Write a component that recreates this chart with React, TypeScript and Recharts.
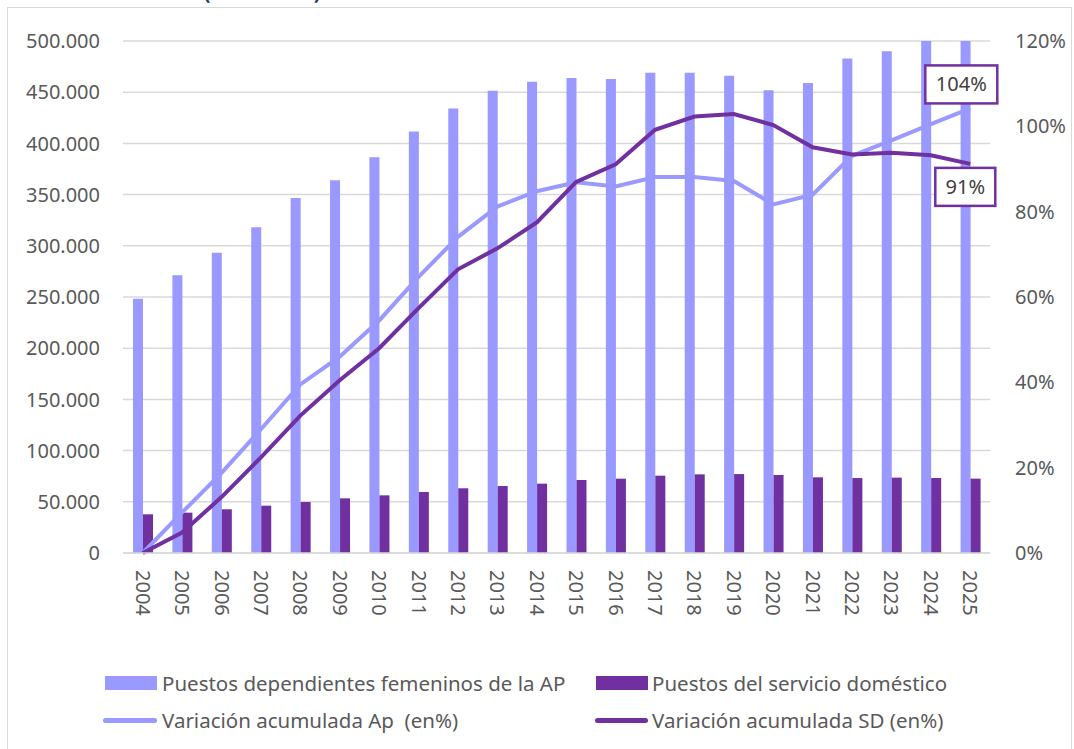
import { ComposedChart, Bar, Line, XAxis, YAxis, CartesianGrid, LabelList } from 'recharts';

const years = ['2004', '2005', '2006', '2007', '2008', '2009', '2010', '2011', '2012', '2013', '2014', '2015', '2016', '2017', '2018', '2019', '2020', '2021', '2022', '2023', '2024', '2025'];
const puestosAP = [248300, 271200, 293300, 318000, 346700, 364000, 386400, 411500, 434200, 451500, 460300, 463900, 463000, 469000, 469000, 466000, 452000, 459000, 483000, 490000, 504000, 512000];
const puestosSD = [37800, 39400, 42700, 46200, 49800, 53400, 56300, 59600, 63200, 65400, 67700, 71300, 72600, 75500, 76800, 77100, 76200, 73900, 73200, 73600, 73200, 72600];
const variacionAP = [0, 9.5, 18.8, 29, 39.5, 46, 54.5, 64.7, 74.1, 81.2, 84.8, 86.9, 85.9, 88.1, 88.1, 87.2, 81.7, 84, 93.1, 96.7, 100.5, 104.2];
const variacionSD = [0, 4.8, 13.1, 22.4, 32.2, 40.5, 48, 57.4, 66.5, 71.4, 77.5, 87, 91.1, 99.2, 102.3, 102.9, 100.3, 95.1, 93.4, 93.8, 93.2, 91.2];
const leftTicks = [0, 50000, 100000, 150000, 200000, 250000, 300000, 350000, 400000, 450000, 500000];
const rightTicks = [0, 20, 40, 60, 80, 100, 120];

const data = years.map((year, i) => ({
  year,
  ap: puestosAP[i],
  sd: puestosSD[i],
  varAP: variacionAP[i],
  varSD: variacionSD[i],
}));

const FONT = '"Noto Sans", sans-serif';
const GREY = '#595959';
const LIGHT = '#9999FF';
const DARK = '#7030A0';
const lastIndex = years.length - 1;

function formatThousands(v: number): string {
  return String(v).replace(/\B(?=(\d{3})+(?!\d))/g, '.');
}

function YearTick({ x, y, payload }: any) {
  return (
    <g transform={`translate(${x},${y})`}>
      <text transform="rotate(90)" x={17} y={0} dy="0.35em" textAnchor="start" fill={GREY} fontSize={20} fontFamily={FONT}>
        {payload.value}
      </text>
    </g>
  );
}

function endLabel(placement: 'above' | 'below') {
  return (props: any) => {
    const { x, y, value, index } = props;
    if (index !== lastIndex) return null;
    const text = `${Math.round(value)}%`;
    const w = text.length * 12 + 24;
    const h = 38;
    const cx = placement === 'above' ? x - 9 : x - 5;
    const cy = placement === 'above' ? y - 24 : y + 23;
    return (
      <g>
        <rect x={cx - w / 2} y={cy - h / 2} width={w} height={h} fill="#fff" stroke={DARK} strokeWidth={2.5} />
        <text x={cx} y={cy} dy="0.35em" textAnchor="middle" fill="#404040" fontSize={20} fontFamily={FONT}>
          {text}
        </text>
      </g>
    );
  };
}

const legendText: React.CSSProperties = {
  position: 'absolute',
  fontFamily: FONT,
  fontSize: 20.5,
  color: GREY,
  whiteSpace: 'pre',
  lineHeight: '24px',
};

function LegendBlock() {
  return (
    <>
      <div style={{ position: 'absolute', left: 105, top: 676, width: 52, height: 14, background: LIGHT }} />
      <div style={{ ...legendText, left: 162, top: 671 }}>Puestos dependientes femeninos de la AP</div>
      <div style={{ position: 'absolute', left: 596, top: 676, width: 52, height: 14, background: DARK }} />
      <div style={{ ...legendText, left: 652, top: 671 }}>Puestos del servicio doméstico</div>
      <div style={{ position: 'absolute', left: 103, top: 718, width: 54, height: 5, borderRadius: 3, background: LIGHT }} />
      <div style={{ ...legendText, left: 162, top: 708 }}>Variación acumulada Ap  (en%)</div>
      <div style={{ position: 'absolute', left: 595, top: 718, width: 53, height: 5, borderRadius: 3, background: DARK }} />
      <div style={{ ...legendText, left: 652, top: 708 }}>Variación acumulada SD (en%)</div>
    </>
  );
}

export default function App() {
  return (
    <div style={{ position: 'absolute', left: 0, top: 0, width: 1074, height: 749, overflow: 'hidden', background: '#fff' }}>
      <svg style={{ position: 'absolute', left: 0, top: 0 }} width={1074} height={20}>
        <text x={262} y={-1} textAnchor="middle" fontSize={21} fontWeight="bold" fill="#1F3864" fontFamily={FONT}>
          (2004-2025)
        </text>
      </svg>
      <div style={{ position: 'absolute', left: 7, top: 7, width: 1065, height: 760, border: '1.5px solid #D9D9D9', boxSizing: 'border-box' }} />
      <div style={{ position: 'absolute', left: 0, top: 0 }}>
        <ComposedChart
          width={1074}
          height={749}
          data={data}
          margin={{ top: 41, right: 0, bottom: 126, left: 0 }}
          barGap={0}
        >
          <CartesianGrid yAxisId="left" vertical={false} stroke="#D9D9D9" strokeWidth={1.5} />
          <XAxis
            dataKey="year"
            height={70}
            interval={0}
            axisLine={{ stroke: '#D9D9D9', strokeWidth: 1.5 }}
            tickLine={false}
            tickSize={0}
            tickMargin={0}
            tick={<YearTick />}
          />
          <YAxis
            yAxisId="left"
            width={123}
            domain={[0, 500000]}
            ticks={leftTicks}
            allowDataOverflow
            axisLine={false}
            tickLine={false}
            tickSize={0}
            tickMargin={23}
            tickFormatter={formatThousands}
            tick={{ fill: GREY, fontSize: 20, fontFamily: FONT }}
          />
          <YAxis
            yAxisId="right"
            orientation="right"
            width={84}
            domain={[0, 120]}
            ticks={rightTicks}
            axisLine={false}
            tickLine={false}
            tickSize={0}
            tickMargin={25}
            tickFormatter={(v: number) => `${v}%`}
            tick={{ fill: GREY, fontSize: 20, fontFamily: FONT }}
          />
          <Bar yAxisId="left" dataKey="ap" fill={LIGHT} barSize={10} isAnimationActive={false} />
          <Bar yAxisId="left" dataKey="sd" fill={DARK} barSize={10} isAnimationActive={false} />
          <Line yAxisId="right" type="linear" dataKey="varAP" stroke={LIGHT} strokeWidth={4} dot={false} isAnimationActive={false}>
            <LabelList dataKey="varAP" content={endLabel('above')} />
          </Line>
          <Line yAxisId="right" type="linear" dataKey="varSD" stroke={DARK} strokeWidth={4} dot={false} isAnimationActive={false}>
            <LabelList dataKey="varSD" content={endLabel('below')} />
          </Line>
        </ComposedChart>
      </div>
      <LegendBlock />
    </div>
  );
}
